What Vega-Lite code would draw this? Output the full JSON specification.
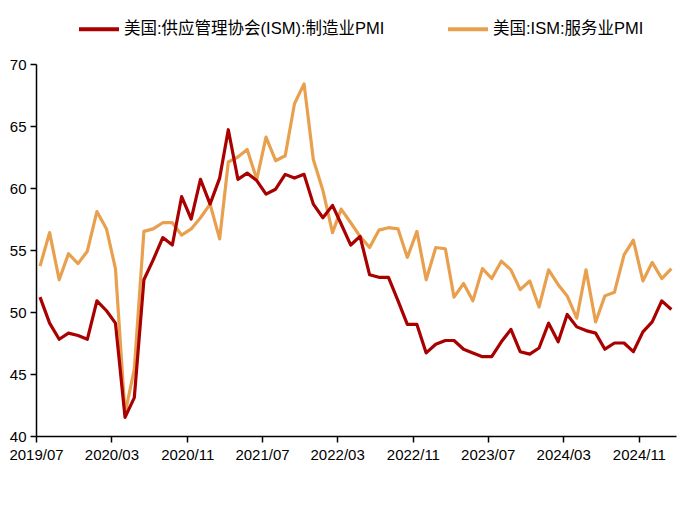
{
  "$schema": "https://vega.github.io/schema/vega-lite/v6.json",
  "autosize": "none",
  "width": 640,
  "height": 372,
  "padding": {"left": 36, "top": 64, "right": 19, "bottom": 69},
  "background": "white",
  "config": {
    "view": {"stroke": null},
    "font": "Liberation Sans, Noto Sans CJK SC"
  },
  "data": {
    "values": [
      {"date": "2019-07-14", "mfg": 51.2, "svc": 53.7},
      {"date": "2019-08-14", "mfg": 49.1, "svc": 56.4},
      {"date": "2019-09-14", "mfg": 47.8, "svc": 52.6},
      {"date": "2019-10-14", "mfg": 48.3, "svc": 54.7},
      {"date": "2019-11-14", "mfg": 48.1, "svc": 53.9},
      {"date": "2019-12-14", "mfg": 47.8, "svc": 54.9},
      {"date": "2020-01-14", "mfg": 50.9, "svc": 58.1},
      {"date": "2020-02-14", "mfg": 50.1, "svc": 56.7},
      {"date": "2020-03-14", "mfg": 49.1, "svc": 53.5},
      {"date": "2020-04-14", "mfg": 41.5, "svc": 41.8},
      {"date": "2020-05-14", "mfg": 43.1, "svc": 45.4},
      {"date": "2020-06-14", "mfg": 52.6, "svc": 56.5},
      {"date": "2020-07-14", "mfg": 54.2, "svc": 56.7},
      {"date": "2020-08-14", "mfg": 56.0, "svc": 57.2},
      {"date": "2020-09-14", "mfg": 55.4, "svc": 57.2},
      {"date": "2020-10-14", "mfg": 59.3, "svc": 56.2},
      {"date": "2020-11-14", "mfg": 57.5, "svc": 56.7},
      {"date": "2020-12-14", "mfg": 60.7, "svc": 57.6},
      {"date": "2021-01-14", "mfg": 58.7, "svc": 58.7},
      {"date": "2021-02-14", "mfg": 60.8, "svc": 55.9},
      {"date": "2021-03-14", "mfg": 64.7, "svc": 62.1},
      {"date": "2021-04-14", "mfg": 60.7, "svc": 62.5},
      {"date": "2021-05-14", "mfg": 61.2, "svc": 63.1},
      {"date": "2021-06-14", "mfg": 60.6, "svc": 60.7},
      {"date": "2021-07-14", "mfg": 59.5, "svc": 64.1},
      {"date": "2021-08-14", "mfg": 59.9, "svc": 62.2},
      {"date": "2021-09-14", "mfg": 61.1, "svc": 62.6},
      {"date": "2021-10-14", "mfg": 60.8, "svc": 66.8},
      {"date": "2021-11-14", "mfg": 61.1, "svc": 68.4},
      {"date": "2021-12-14", "mfg": 58.7, "svc": 62.3},
      {"date": "2022-01-14", "mfg": 57.6, "svc": 59.8},
      {"date": "2022-02-14", "mfg": 58.6, "svc": 56.4},
      {"date": "2022-03-14", "mfg": 57.1, "svc": 58.3},
      {"date": "2022-04-14", "mfg": 55.4, "svc": 57.2},
      {"date": "2022-05-14", "mfg": 56.1, "svc": 56.1},
      {"date": "2022-06-14", "mfg": 53.0, "svc": 55.2},
      {"date": "2022-07-14", "mfg": 52.8, "svc": 56.6},
      {"date": "2022-08-14", "mfg": 52.8, "svc": 56.8},
      {"date": "2022-09-14", "mfg": 50.9, "svc": 56.7},
      {"date": "2022-10-14", "mfg": 49.0, "svc": 54.4},
      {"date": "2022-11-14", "mfg": 49.0, "svc": 56.5},
      {"date": "2022-12-14", "mfg": 46.7, "svc": 52.6},
      {"date": "2023-01-14", "mfg": 47.4, "svc": 55.2},
      {"date": "2023-02-14", "mfg": 47.7, "svc": 55.1},
      {"date": "2023-03-14", "mfg": 47.7, "svc": 51.2},
      {"date": "2023-04-14", "mfg": 47.0, "svc": 52.3},
      {"date": "2023-05-14", "mfg": 46.7, "svc": 50.9},
      {"date": "2023-06-14", "mfg": 46.4, "svc": 53.5},
      {"date": "2023-07-14", "mfg": 46.4, "svc": 52.7},
      {"date": "2023-08-14", "mfg": 47.6, "svc": 54.1},
      {"date": "2023-09-14", "mfg": 48.6, "svc": 53.4},
      {"date": "2023-10-14", "mfg": 46.8, "svc": 51.8},
      {"date": "2023-11-14", "mfg": 46.6, "svc": 52.5},
      {"date": "2023-12-14", "mfg": 47.1, "svc": 50.4},
      {"date": "2024-01-14", "mfg": 49.1, "svc": 53.4},
      {"date": "2024-02-14", "mfg": 47.6, "svc": 52.2},
      {"date": "2024-03-14", "mfg": 49.8, "svc": 51.3},
      {"date": "2024-04-14", "mfg": 48.8, "svc": 49.5},
      {"date": "2024-05-14", "mfg": 48.5, "svc": 53.4},
      {"date": "2024-06-14", "mfg": 48.3, "svc": 49.2},
      {"date": "2024-07-14", "mfg": 47.0, "svc": 51.3},
      {"date": "2024-08-14", "mfg": 47.5, "svc": 51.6},
      {"date": "2024-09-14", "mfg": 47.5, "svc": 54.6},
      {"date": "2024-10-14", "mfg": 46.8, "svc": 55.8},
      {"date": "2024-11-14", "mfg": 48.4, "svc": 52.5},
      {"date": "2024-12-14", "mfg": 49.2, "svc": 54.0},
      {"date": "2025-01-14", "mfg": 50.9, "svc": 52.7},
      {"date": "2025-02-14", "mfg": 50.2, "svc": 53.5}
    ]
  },
  "encoding": {
    "x": {
      "field": "date",
      "type": "temporal",
      "title": null,
      "scale": {
        "type": "utc",
        "domain": [
          {"year": 2019, "month": 7, "date": 1, "utc": true},
          {"year": 2025, "month": 3, "date": 1, "utc": true}
        ]
      },
      "axis": {
        "values": [
          {"year": 2019, "month": 7, "date": 1, "utc": true},
          {"year": 2020, "month": 3, "date": 1, "utc": true},
          {"year": 2020, "month": 11, "date": 1, "utc": true},
          {"year": 2021, "month": 7, "date": 1, "utc": true},
          {"year": 2022, "month": 3, "date": 1, "utc": true},
          {"year": 2022, "month": 11, "date": 1, "utc": true},
          {"year": 2023, "month": 7, "date": 1, "utc": true},
          {"year": 2024, "month": 3, "date": 1, "utc": true},
          {"year": 2024, "month": 11, "date": 1, "utc": true}
        ],
        "labelExpr": "utcFormat(datum.value, '%Y/%m')",
        "grid": false,
        "domainColor": "#000000",
        "domainWidth": 1.5,
        "tickColor": "#000000",
        "tickWidth": 1.5,
        "tickSize": 6,
        "labelFontSize": 15,
        "labelColor": "#000000",
        "labelPadding": 5,
        "labelFlush": false,
        "labelOverlap": false
      }
    }
  },
  "layer": [
    {
      "mark": {"type": "line", "strokeWidth": 3.2, "strokeJoin": "round"},
      "encoding": {
        "y": {
          "field": "svc",
          "type": "quantitative",
          "title": null,
          "scale": {"domain": [40, 70], "nice": false, "zero": false},
          "axis": {
            "values": [40, 45, 50, 55, 60, 65, 70],
            "grid": false,
            "domainColor": "#000000",
            "domainWidth": 1.5,
            "tickColor": "#000000",
            "tickWidth": 1.5,
            "tickSize": 6,
            "labelFontSize": 15,
            "labelColor": "#000000",
            "labelPadding": 4,
            "labelFlush": false
          }
        },
        "color": {
          "datum": "美国:ISM:服务业PMI",
          "type": "nominal",
          "scale": {
            "domain": ["美国:供应管理协会(ISM):制造业PMI", "美国:ISM:服务业PMI"],
            "range": ["#A90000", "#E9A04E"]
          },
          "legend": {
            "title": null,
            "orient": "none",
            "legendX": 41,
            "legendY": -57,
            "direction": "horizontal",
            "symbolType": "stroke",
            "symbolSize": 1600,
            "symbolStrokeWidth": 4,
            "labelFontSize": 16.5,
            "labelColor": "#000000",
            "labelLimit": 400,
            "labelOffset": 3,
            "columnPadding": 55
          }
        }
      }
    },
    {
      "mark": {"type": "line", "strokeWidth": 3.2, "strokeJoin": "round"},
      "encoding": {
        "y": {"field": "mfg", "type": "quantitative", "title": null},
        "color": {"datum": "美国:供应管理协会(ISM):制造业PMI", "type": "nominal"}
      }
    }
  ]
}
